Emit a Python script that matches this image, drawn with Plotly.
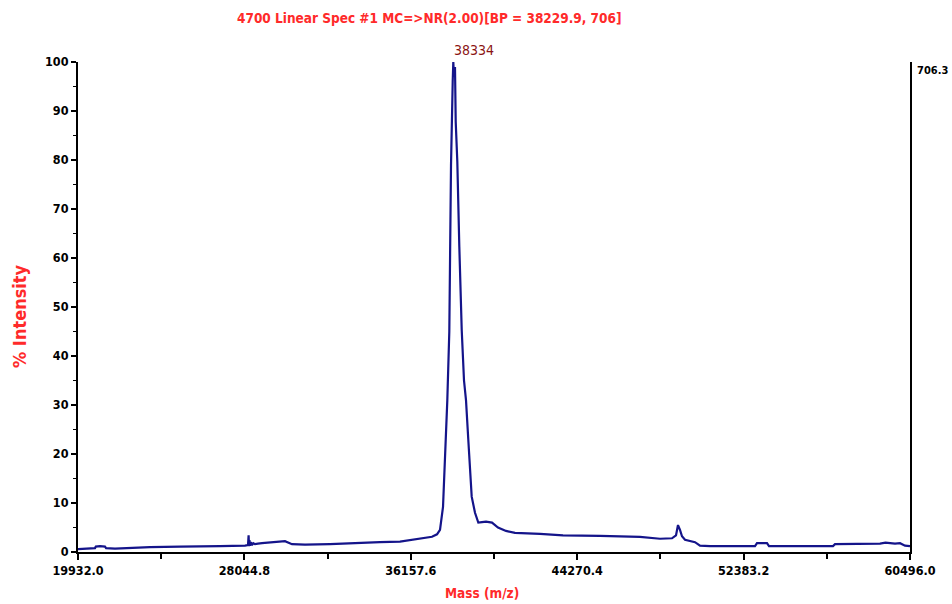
import plotly.graph_objects as go

# Spectrum data (mass m/z, % intensity)
mass = [19932, 20273, 20761, 20800, 21005, 21248, 21300, 21736, 22223, 22467, 23442, 24905, 25880,
        26855, 28074, 28220, 28250, 28269, 28290, 28318, 28360, 28415, 28480, 28562, 28620, 28708,
        28903, 29293, 30024, 30365, 30999, 32218, 33193, 34656, 35631, 36362, 36850, 37191,
        37435, 37581, 37728, 37860, 37938, 38035, 38069, 38118, 38201, 38230, 38264, 38312,
        38347, 38425, 38523, 38640, 38752, 38849, 38961, 39044, 39127, 39288, 39449, 39629,
        39824, 40117, 40409, 40799, 41238, 42457, 43578, 45382, 47332, 48307, 48892, 49087,
        49185, 49282, 49380, 49526, 49770, 50014, 50258, 50745, 52939, 53037, 53524, 53622,
        55133, 56742, 56840, 58059, 59034, 59300, 59765, 60009, 60253, 60496]
intensity = [0.6, 0.7, 0.8, 1.1, 1.2, 1.1, 0.8, 0.7, 0.8, 0.8, 1.0, 1.1, 1.1,
             1.2, 1.3, 1.4, 3.4, 1.2, 2.4, 1.3, 2.0, 1.4, 1.8, 1.6, 1.7, 1.7,
             1.8, 1.9, 2.2, 1.6, 1.5, 1.6, 1.8, 2.0, 2.1, 2.5, 2.8, 3.1,
             3.6, 4.5, 9.2, 22.9, 31.0, 45.0, 62.0, 79.0, 96.0, 100.0, 97.0, 99.0,
             87.8, 79.7, 62.3, 45.3, 35.0, 31.0, 22.9, 16.7, 11.3, 8.0, 6.0, 6.1,
             6.2, 6.0, 5.0, 4.3, 3.9, 3.7, 3.4, 3.3, 3.1, 2.7, 2.8, 3.4,
             5.5, 4.5, 3.2, 2.5, 2.2, 2.0, 1.3, 1.2, 1.2, 1.8, 1.8, 1.2,
             1.2, 1.2, 1.6, 1.6, 1.7, 1.9, 1.7, 1.8, 1.3, 1.2]

x_ticks = [19932.0, 28044.8, 36157.6, 44270.4, 52383.2, 60496.0]
y_ticks = [0, 10, 20, 30, 40, 50, 60, 70, 80, 90, 100]
title_text = "4700 Linear Spec #1 MC=>NR(2.00)[BP = 38229.9, 706]"
peak_label = "38334"
peak_mass = 38264
right_label = "706.3"

FONT = "DejaVu Sans Condensed, Liberation Sans Narrow, Arial, sans-serif"

fig = go.Figure()
fig.add_trace(go.Scatter(x=mass, y=intensity, mode="lines",
                         line=dict(color="#14148a", width=2.2), hoverinfo="skip"))

fig.update_layout(
    width=952, height=604,
    margin=dict(l=78, r=42, t=62, b=52),
    paper_bgcolor="white", plot_bgcolor="white",
    showlegend=False,
    font=dict(family=FONT, size=12, color="black"),
)
fig.update_xaxes(
    range=[x_ticks[0], x_ticks[-1]], showgrid=False, zeroline=False,
    showline=True, linecolor="black", linewidth=2,
    tickmode="array", tickvals=x_ticks, ticktext=[f"<b>{v:.1f}</b>" for v in x_ticks],
    ticks="outside", ticklen=6, tickwidth=2, tickcolor="black",
    minor=dict(tickvals=[(x_ticks[i] + x_ticks[i + 1]) / 2 for i in range(len(x_ticks) - 1)],
               ticks="outside", ticklen=5, tickwidth=2, tickcolor="black"),
    tickfont=dict(family=FONT, size=12.5, color="black"),
)
fig.update_yaxes(
    range=[0, 100], showgrid=False, zeroline=False,
    showline=True, linecolor="black", linewidth=2, mirror=True,
    tickmode="array", tickvals=y_ticks, ticktext=[f"<b>{v}</b>" for v in y_ticks],
    ticks="outside", ticklen=5, tickwidth=2, tickcolor="black",
    minor=dict(tickvals=[v + 5 for v in y_ticks[:-1]], ticks="outside", ticklen=3,
               tickwidth=1, tickcolor="black"),
    tickfont=dict(family=FONT, size=12.5, color="black"),
)

fig.add_annotation(text=f"<b>{title_text}</b>", xref="paper", yref="paper",
                   x=(429 - 78) / 832, y=1, yshift=44, yanchor="middle", showarrow=False,
                   font=dict(family=FONT, size=13.5, color="#ff2a2a"))
fig.add_annotation(text=peak_label, x=peak_mass, y=100, xanchor="left", xshift=-2,
                   yshift=12, showarrow=False,
                   font=dict(family=FONT, size=14, color="#8b1414"))
fig.add_annotation(text=f"<b>{right_label}</b>", xref="paper", yref="paper",
                   x=1, y=1, xshift=5, yshift=0, xanchor="left", showarrow=False,
                   font=dict(family=FONT, size=11, color="black"))
fig.add_annotation(text="<b>Mass (m/z)</b>", xref="paper", yref="paper",
                   x=(482 - 78) / 832, y=0, yshift=-41, yanchor="middle", showarrow=False,
                   font=dict(family=FONT, size=13.5, color="#ff2a2a"))
fig.add_annotation(text="<b>% Intensity</b>", xref="paper", yref="paper",
                   x=0, xshift=-59, xanchor="center", y=(552 - 316) / 490,
                   textangle=-90, showarrow=False,
                   font=dict(family=FONT, size=18, color="#ff2a2a"))

fig.write_html("out.html")
